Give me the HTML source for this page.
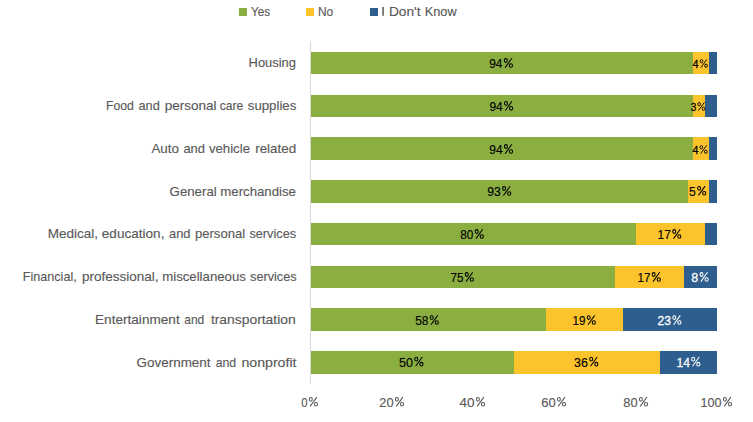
<!DOCTYPE html><html><head><meta charset="utf-8"><style>html,body{margin:0;padding:0;background:#fff;width:753px;height:422px;overflow:hidden}svg{display:block}text{font-family:"Liberation Sans",sans-serif}</style></head><body>
<svg width="753" height="422" viewBox="0 0 753 422">
<rect x="0" y="0" width="753" height="422" fill="#fff"/>
<rect x="310" y="41" width="1" height="343" fill="#D9D9D9"/>
<rect x="311" y="52" width="382" height="22" fill="#8AAE40"/>
<rect x="693" y="52" width="16" height="22" fill="#FCC42C"/>
<rect x="709" y="52" width="8" height="22" fill="#2D5E8E"/>
<rect x="311" y="95" width="382" height="22" fill="#8AAE40"/>
<rect x="693" y="95" width="12" height="22" fill="#FCC42C"/>
<rect x="705" y="95" width="12" height="22" fill="#2D5E8E"/>
<rect x="311" y="137" width="382" height="23" fill="#8AAE40"/>
<rect x="693" y="137" width="16" height="23" fill="#FCC42C"/>
<rect x="709" y="137" width="8" height="23" fill="#2D5E8E"/>
<rect x="311" y="180" width="377" height="23" fill="#8AAE40"/>
<rect x="688" y="180" width="21" height="23" fill="#FCC42C"/>
<rect x="709" y="180" width="8" height="23" fill="#2D5E8E"/>
<rect x="311" y="223" width="325" height="22" fill="#8AAE40"/>
<rect x="636" y="223" width="69" height="22" fill="#FCC42C"/>
<rect x="705" y="223" width="12" height="22" fill="#2D5E8E"/>
<rect x="311" y="266" width="304" height="22" fill="#8AAE40"/>
<rect x="615" y="266" width="69" height="22" fill="#FCC42C"/>
<rect x="684" y="266" width="33" height="22" fill="#2D5E8E"/>
<rect x="311" y="308" width="235" height="23" fill="#8AAE40"/>
<rect x="546" y="308" width="77" height="23" fill="#FCC42C"/>
<rect x="623" y="308" width="94" height="23" fill="#2D5E8E"/>
<rect x="311" y="351" width="203" height="23" fill="#8AAE40"/>
<rect x="514" y="351" width="146" height="23" fill="#FCC42C"/>
<rect x="660" y="351" width="57" height="23" fill="#2D5E8E"/>
<rect x="239" y="8" width="8" height="8" fill="#8AAE40"/>
<rect x="306" y="8" width="8" height="8" fill="#FCC42C"/>
<rect x="370" y="8" width="8" height="8" fill="#2D5E8E"/>
<text x="248.60" y="66.90" font-size="13.2" fill="#595959" stroke="#595959" stroke-width="0.14" textLength="47.40" lengthAdjust="spacingAndGlyphs">Housing</text>
<text x="106.00" y="109.70" font-size="13.2" fill="#595959" stroke="#595959" stroke-width="0.14" textLength="27.90" lengthAdjust="spacingAndGlyphs">Food</text>
<text x="138.50" y="109.70" font-size="13.2" fill="#595959" stroke="#595959" stroke-width="0.14" textLength="21.30" lengthAdjust="spacingAndGlyphs">and</text>
<text x="164.70" y="109.70" font-size="13.2" fill="#595959" stroke="#595959" stroke-width="0.14" textLength="51.90" lengthAdjust="spacingAndGlyphs">personal</text>
<text x="219.70" y="109.70" font-size="13.2" fill="#595959" stroke="#595959" stroke-width="0.14" textLength="23.50" lengthAdjust="spacingAndGlyphs">care</text>
<text x="247.80" y="109.70" font-size="13.2" fill="#595959" stroke="#595959" stroke-width="0.14" textLength="48.50" lengthAdjust="spacingAndGlyphs">supplies</text>
<text x="151.40" y="152.70" font-size="13.2" fill="#595959" stroke="#595959" stroke-width="0.14" textLength="27.50" lengthAdjust="spacingAndGlyphs">Auto</text>
<text x="183.40" y="152.70" font-size="13.2" fill="#595959" stroke="#595959" stroke-width="0.14" textLength="21.60" lengthAdjust="spacingAndGlyphs">and</text>
<text x="208.90" y="152.70" font-size="13.2" fill="#595959" stroke="#595959" stroke-width="0.14" textLength="41.10" lengthAdjust="spacingAndGlyphs">vehicle</text>
<text x="255.20" y="152.70" font-size="13.2" fill="#595959" stroke="#595959" stroke-width="0.14" textLength="40.90" lengthAdjust="spacingAndGlyphs">related</text>
<text x="169.60" y="195.50" font-size="13.2" fill="#595959" stroke="#595959" stroke-width="0.14" textLength="47.10" lengthAdjust="spacingAndGlyphs">General</text>
<text x="220.30" y="195.50" font-size="13.2" fill="#595959" stroke="#595959" stroke-width="0.14" textLength="75.60" lengthAdjust="spacingAndGlyphs">merchandise</text>
<text x="47.70" y="237.90" font-size="13.2" fill="#595959" stroke="#595959" stroke-width="0.14" textLength="50.40" lengthAdjust="spacingAndGlyphs">Medical,</text>
<text x="101.80" y="237.90" font-size="13.2" fill="#595959" stroke="#595959" stroke-width="0.14" textLength="62.60" lengthAdjust="spacingAndGlyphs">education,</text>
<text x="169.00" y="237.90" font-size="13.2" fill="#595959" stroke="#595959" stroke-width="0.14" textLength="21.40" lengthAdjust="spacingAndGlyphs">and</text>
<text x="195.00" y="237.90" font-size="13.2" fill="#595959" stroke="#595959" stroke-width="0.14" textLength="50.10" lengthAdjust="spacingAndGlyphs">personal</text>
<text x="249.40" y="237.90" font-size="13.2" fill="#595959" stroke="#595959" stroke-width="0.14" textLength="46.70" lengthAdjust="spacingAndGlyphs">services</text>
<text x="22.80" y="280.90" font-size="13.2" fill="#595959" stroke="#595959" stroke-width="0.14" textLength="53.90" lengthAdjust="spacingAndGlyphs">Financial,</text>
<text x="81.90" y="280.90" font-size="13.2" fill="#595959" stroke="#595959" stroke-width="0.14" textLength="76.60" lengthAdjust="spacingAndGlyphs">professional,</text>
<text x="162.20" y="280.90" font-size="13.2" fill="#595959" stroke="#595959" stroke-width="0.14" textLength="83.70" lengthAdjust="spacingAndGlyphs">miscellaneous</text>
<text x="250.10" y="280.90" font-size="13.2" fill="#595959" stroke="#595959" stroke-width="0.14" textLength="46.50" lengthAdjust="spacingAndGlyphs">services</text>
<text x="95.00" y="323.90" font-size="13.2" fill="#595959" stroke="#595959" stroke-width="0.14" textLength="84.70" lengthAdjust="spacingAndGlyphs">Entertainment</text>
<text x="184.30" y="323.90" font-size="13.2" fill="#595959" stroke="#595959" stroke-width="0.14" textLength="20.00" lengthAdjust="spacingAndGlyphs">and</text>
<text x="210.90" y="323.90" font-size="13.2" fill="#595959" stroke="#595959" stroke-width="0.14" textLength="84.80" lengthAdjust="spacingAndGlyphs">transportation</text>
<text x="136.50" y="366.90" font-size="13.2" fill="#595959" stroke="#595959" stroke-width="0.14" textLength="74.10" lengthAdjust="spacingAndGlyphs">Government</text>
<text x="215.70" y="366.90" font-size="13.2" fill="#595959" stroke="#595959" stroke-width="0.14" textLength="20.50" lengthAdjust="spacingAndGlyphs">and</text>
<text x="241.40" y="366.90" font-size="13.2" fill="#595959" stroke="#595959" stroke-width="0.14" textLength="55.10" lengthAdjust="spacingAndGlyphs">nonprofit</text>
<text x="301.20" y="406.80" font-size="13.2" fill="#595959" stroke="#595959" stroke-width="0.14" textLength="6.30" lengthAdjust="spacingAndGlyphs">0</text>
<g fill="none" stroke="#595959" stroke-width="1.05"><ellipse cx="310.80" cy="399.30" rx="1.48" ry="1.88"/><ellipse cx="315.90" cy="404.25" rx="1.58" ry="1.78"/><line x1="310.10" y1="406.40" x2="316.80" y2="397.10"/></g>
<text x="379.30" y="406.80" font-size="13.2" fill="#595959" stroke="#595959" stroke-width="0.14" textLength="14.30" lengthAdjust="spacingAndGlyphs">20</text>
<g fill="none" stroke="#595959" stroke-width="1.05"><ellipse cx="396.90" cy="399.30" rx="1.48" ry="1.88"/><ellipse cx="402.00" cy="404.25" rx="1.58" ry="1.78"/><line x1="396.20" y1="406.40" x2="402.90" y2="397.10"/></g>
<text x="459.60" y="406.80" font-size="13.2" fill="#595959" stroke="#595959" stroke-width="0.14" textLength="15.00" lengthAdjust="spacingAndGlyphs">40</text>
<g fill="none" stroke="#595959" stroke-width="1.05"><ellipse cx="477.90" cy="399.30" rx="1.48" ry="1.88"/><ellipse cx="483.00" cy="404.25" rx="1.58" ry="1.78"/><line x1="477.20" y1="406.40" x2="483.90" y2="397.10"/></g>
<text x="541.20" y="406.80" font-size="13.2" fill="#595959" stroke="#595959" stroke-width="0.14" textLength="14.40" lengthAdjust="spacingAndGlyphs">60</text>
<g fill="none" stroke="#595959" stroke-width="1.05"><ellipse cx="558.90" cy="399.30" rx="1.47" ry="1.87"/><ellipse cx="564.00" cy="404.25" rx="1.57" ry="1.77"/><line x1="558.20" y1="406.40" x2="564.90" y2="397.10"/></g>
<text x="623.30" y="406.80" font-size="13.2" fill="#595959" stroke="#595959" stroke-width="0.14" textLength="14.30" lengthAdjust="spacingAndGlyphs">80</text>
<g fill="none" stroke="#595959" stroke-width="1.05"><ellipse cx="640.90" cy="399.30" rx="1.47" ry="1.87"/><ellipse cx="646.00" cy="404.25" rx="1.57" ry="1.77"/><line x1="640.20" y1="406.40" x2="646.90" y2="397.10"/></g>
<text x="700.60" y="406.80" font-size="13.2" fill="#595959" stroke="#595959" stroke-width="0.14" textLength="21.00" lengthAdjust="spacingAndGlyphs">100</text>
<g fill="none" stroke="#595959" stroke-width="1.05"><ellipse cx="724.90" cy="399.30" rx="1.47" ry="1.87"/><ellipse cx="730.00" cy="404.25" rx="1.57" ry="1.77"/><line x1="724.20" y1="406.40" x2="730.90" y2="397.10"/></g>
<text x="251.10" y="15.80" font-size="13.2" fill="#595959" stroke="#595959" stroke-width="0.14" textLength="19.10" lengthAdjust="spacingAndGlyphs">Yes</text>
<text x="317.90" y="15.80" font-size="13.2" fill="#595959" stroke="#595959" stroke-width="0.14" textLength="15.20" lengthAdjust="spacingAndGlyphs">No</text>
<rect x="382.30" y="7.00" width="1.50" height="8.8" fill="#595959"/>
<text x="388.90" y="15.80" font-size="13.2" fill="#595959" stroke="#595959" stroke-width="0.14" textLength="31.60" lengthAdjust="spacingAndGlyphs">Don&#39;t</text>
<text x="424.80" y="15.80" font-size="13.2" fill="#595959" stroke="#595959" stroke-width="0.14" textLength="31.80" lengthAdjust="spacingAndGlyphs">Know</text>
<text x="489.20" y="68.00" font-size="13.4" fill="#000" stroke="#000" stroke-width="0.15" textLength="13.30" lengthAdjust="spacingAndGlyphs">94</text>
<g fill="none" stroke="#000" stroke-width="1.05"><ellipse cx="505.80" cy="60.50" rx="1.48" ry="1.88"/><ellipse cx="510.90" cy="65.45" rx="1.58" ry="1.78"/><line x1="505.10" y1="67.60" x2="511.80" y2="58.30"/></g>
<text x="692.80" y="68.00" font-size="11.5" fill="#000" stroke="#000" stroke-width="0.3" textLength="5.77" lengthAdjust="spacingAndGlyphs">4</text>
<g fill="none" stroke="#000" stroke-width="0.93"><ellipse cx="701.50" cy="61.32" rx="1.31" ry="1.67"/><ellipse cx="706.04" cy="65.73" rx="1.40" ry="1.58"/><line x1="700.88" y1="67.64" x2="706.84" y2="59.37"/></g>
<text x="489.40" y="110.90" font-size="13.4" fill="#000" stroke="#000" stroke-width="0.15" textLength="13.30" lengthAdjust="spacingAndGlyphs">94</text>
<g fill="none" stroke="#000" stroke-width="1.05"><ellipse cx="506.00" cy="103.40" rx="1.48" ry="1.88"/><ellipse cx="511.10" cy="108.35" rx="1.58" ry="1.78"/><line x1="505.30" y1="110.50" x2="512.00" y2="101.20"/></g>
<text x="690.70" y="110.90" font-size="11.5" fill="#000" stroke="#000" stroke-width="0.3" textLength="5.47" lengthAdjust="spacingAndGlyphs">3</text>
<g fill="none" stroke="#000" stroke-width="0.93"><ellipse cx="699.10" cy="104.22" rx="1.31" ry="1.67"/><ellipse cx="703.64" cy="108.63" rx="1.40" ry="1.58"/><line x1="698.48" y1="110.54" x2="704.44" y2="102.27"/></g>
<text x="489.20" y="154.00" font-size="13.4" fill="#000" stroke="#000" stroke-width="0.15" textLength="13.40" lengthAdjust="spacingAndGlyphs">94</text>
<g fill="none" stroke="#000" stroke-width="1.05"><ellipse cx="505.90" cy="146.50" rx="1.48" ry="1.88"/><ellipse cx="511.00" cy="151.45" rx="1.58" ry="1.78"/><line x1="505.20" y1="153.60" x2="511.90" y2="144.30"/></g>
<text x="692.40" y="154.00" font-size="11.5" fill="#000" stroke="#000" stroke-width="0.3" textLength="5.97" lengthAdjust="spacingAndGlyphs">4</text>
<g fill="none" stroke="#000" stroke-width="0.93"><ellipse cx="701.30" cy="147.32" rx="1.31" ry="1.67"/><ellipse cx="705.84" cy="151.73" rx="1.40" ry="1.58"/><line x1="700.68" y1="153.64" x2="706.64" y2="145.37"/></g>
<text x="487.20" y="196.00" font-size="13.4" fill="#000" stroke="#000" stroke-width="0.15" textLength="13.60" lengthAdjust="spacingAndGlyphs">93</text>
<g fill="none" stroke="#000" stroke-width="1.05"><ellipse cx="504.10" cy="188.50" rx="1.48" ry="1.88"/><ellipse cx="509.20" cy="193.45" rx="1.58" ry="1.78"/><line x1="503.40" y1="195.60" x2="510.10" y2="186.30"/></g>
<text x="689.10" y="195.80" font-size="13.4" fill="#000" stroke="#000" stroke-width="0.15" textLength="6.70" lengthAdjust="spacingAndGlyphs">5</text>
<g fill="none" stroke="#000" stroke-width="1.05"><ellipse cx="699.10" cy="188.30" rx="1.47" ry="1.87"/><ellipse cx="704.20" cy="193.25" rx="1.57" ry="1.77"/><line x1="698.40" y1="195.40" x2="705.10" y2="186.10"/></g>
<text x="460.30" y="239.00" font-size="13.4" fill="#000" stroke="#000" stroke-width="0.15" textLength="13.10" lengthAdjust="spacingAndGlyphs">80</text>
<g fill="none" stroke="#000" stroke-width="1.05"><ellipse cx="476.70" cy="231.50" rx="1.48" ry="1.88"/><ellipse cx="481.80" cy="236.45" rx="1.58" ry="1.78"/><line x1="476.00" y1="238.60" x2="482.70" y2="229.30"/></g>
<text x="657.60" y="239.00" font-size="13.4" fill="#000" stroke="#000" stroke-width="0.15" textLength="13.30" lengthAdjust="spacingAndGlyphs">17</text>
<g fill="none" stroke="#000" stroke-width="1.05"><ellipse cx="674.20" cy="231.50" rx="1.47" ry="1.87"/><ellipse cx="679.30" cy="236.45" rx="1.57" ry="1.77"/><line x1="673.50" y1="238.60" x2="680.20" y2="229.30"/></g>
<text x="450.40" y="282.00" font-size="13.4" fill="#000" stroke="#000" stroke-width="0.15" textLength="13.00" lengthAdjust="spacingAndGlyphs">75</text>
<g fill="none" stroke="#000" stroke-width="1.05"><ellipse cx="466.70" cy="274.50" rx="1.48" ry="1.88"/><ellipse cx="471.80" cy="279.45" rx="1.58" ry="1.78"/><line x1="466.00" y1="281.60" x2="472.70" y2="272.30"/></g>
<text x="637.50" y="282.00" font-size="13.4" fill="#000" stroke="#000" stroke-width="0.15" textLength="12.90" lengthAdjust="spacingAndGlyphs">17</text>
<g fill="none" stroke="#000" stroke-width="1.05"><ellipse cx="653.70" cy="274.50" rx="1.47" ry="1.87"/><ellipse cx="658.80" cy="279.45" rx="1.57" ry="1.77"/><line x1="653.00" y1="281.60" x2="659.70" y2="272.30"/></g>
<text x="691.30" y="282.00" font-size="13.4" fill="#fff" stroke="#fff" stroke-width="0.3" textLength="6.90" lengthAdjust="spacingAndGlyphs">8</text>
<g fill="none" stroke="#fff" stroke-width="1.05"><ellipse cx="701.50" cy="274.50" rx="1.47" ry="1.87"/><ellipse cx="706.60" cy="279.45" rx="1.57" ry="1.77"/><line x1="700.80" y1="281.60" x2="707.50" y2="272.30"/></g>
<text x="415.20" y="325.10" font-size="13.4" fill="#000" stroke="#000" stroke-width="0.15" textLength="13.20" lengthAdjust="spacingAndGlyphs">58</text>
<g fill="none" stroke="#000" stroke-width="1.05"><ellipse cx="431.70" cy="317.60" rx="1.48" ry="1.88"/><ellipse cx="436.80" cy="322.55" rx="1.58" ry="1.78"/><line x1="431.00" y1="324.70" x2="437.70" y2="315.40"/></g>
<text x="572.50" y="325.10" font-size="13.4" fill="#000" stroke="#000" stroke-width="0.15" textLength="12.90" lengthAdjust="spacingAndGlyphs">19</text>
<g fill="none" stroke="#000" stroke-width="1.05"><ellipse cx="588.70" cy="317.60" rx="1.47" ry="1.87"/><ellipse cx="593.80" cy="322.55" rx="1.57" ry="1.77"/><line x1="588.00" y1="324.70" x2="594.70" y2="315.40"/></g>
<text x="657.50" y="325.10" font-size="13.4" fill="#fff" stroke="#fff" stroke-width="0.3" textLength="13.50" lengthAdjust="spacingAndGlyphs">23</text>
<g fill="none" stroke="#fff" stroke-width="1.05"><ellipse cx="674.30" cy="317.60" rx="1.47" ry="1.87"/><ellipse cx="679.40" cy="322.55" rx="1.57" ry="1.77"/><line x1="673.60" y1="324.70" x2="680.30" y2="315.40"/></g>
<text x="399.00" y="366.70" font-size="13.4" fill="#000" stroke="#000" stroke-width="0.15" textLength="14.00" lengthAdjust="spacingAndGlyphs">50</text>
<g fill="none" stroke="#000" stroke-width="1.05"><ellipse cx="416.30" cy="359.20" rx="1.48" ry="1.88"/><ellipse cx="421.40" cy="364.15" rx="1.58" ry="1.78"/><line x1="415.60" y1="366.30" x2="422.30" y2="357.00"/></g>
<text x="574.00" y="366.70" font-size="13.4" fill="#000" stroke="#000" stroke-width="0.15" textLength="13.90" lengthAdjust="spacingAndGlyphs">36</text>
<g fill="none" stroke="#000" stroke-width="1.05"><ellipse cx="591.20" cy="359.20" rx="1.47" ry="1.87"/><ellipse cx="596.30" cy="364.15" rx="1.57" ry="1.77"/><line x1="590.50" y1="366.30" x2="597.20" y2="357.00"/></g>
<text x="676.40" y="366.70" font-size="13.4" fill="#fff" stroke="#fff" stroke-width="0.3" textLength="13.50" lengthAdjust="spacingAndGlyphs">14</text>
<g fill="none" stroke="#fff" stroke-width="1.05"><ellipse cx="693.20" cy="359.20" rx="1.47" ry="1.87"/><ellipse cx="698.30" cy="364.15" rx="1.57" ry="1.77"/><line x1="692.50" y1="366.30" x2="699.20" y2="357.00"/></g>
</svg></body></html>
